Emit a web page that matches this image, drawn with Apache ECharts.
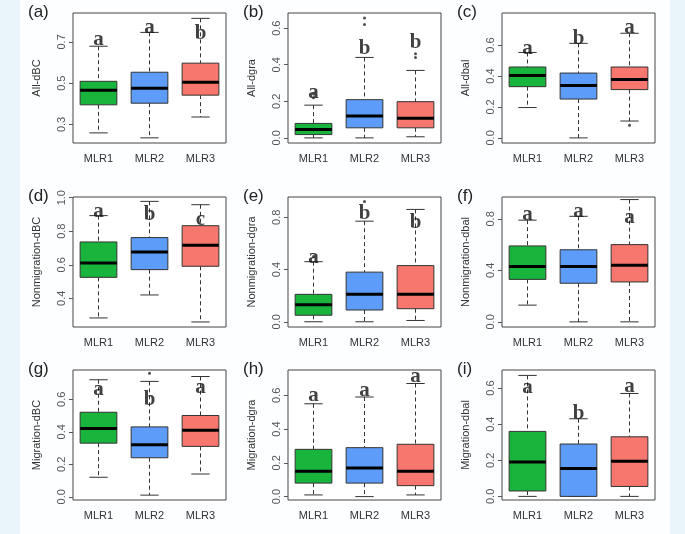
<!DOCTYPE html>
<html lang="en">
<head>
<meta charset="UTF-8">
<title>boxplots</title>
<style>
  html, body { margin: 0; width: 100%; height: 100%; background: #eaf4fb; }
  #main { width: 685px; height: 534px; }
</style>
</head>
<body>
<div id="main"></div>
<script src="https://cdn.jsdelivr.net/npm/echarts@6/dist/echarts.min.js"></script>
<script>
// categories and colours
var groups = ['MLR1', 'MLR2', 'MLR3'];
var fills = ['#19b43c', '#5d9cf8', '#f7766d'];

// panel tags and y names
var tags = ['(a)', '(b)', '(c)', '(d)', '(e)', '(f)', '(g)', '(h)', '(i)'];
var yNames = ['All-dBC', 'All-dgra', 'All-dbal',
  'Nonmigration-dBC', 'Nonmigration-dgra', 'Nonmigration-dbal',
  'Migration-dBC', 'Migration-dgra', 'Migration-dbal'];

// [low whisker, Q1, median, Q3, high whisker] per group
var boxA = [[0.259, 0.395, 0.466, 0.509, 0.679], [0.235, 0.403, 0.475, 0.553, 0.746], [0.336, 0.442, 0.504, 0.597, 0.814]];
var boxB = [[0, 0.018, 0.046, 0.079, 0.179], [0, 0.055, 0.12, 0.209, 0.44], [0.006, 0.055, 0.107, 0.198, 0.369]];
var boxC = [[0.196, 0.331, 0.403, 0.458, 0.552], [0, 0.251, 0.338, 0.419, 0.611], [0.109, 0.312, 0.377, 0.458, 0.676]];
var boxD = [[0.283, 0.525, 0.611, 0.736, 0.893], [0.42, 0.571, 0.676, 0.762, 0.978], [0.259, 0.591, 0.716, 0.833, 0.958]];
var boxE = [[0, 0.05, 0.13, 0.21, 0.46], [0, 0.09, 0.21, 0.38, 0.77], [0.01, 0.10, 0.21, 0.43, 0.86]];
var boxF = [[0.13, 0.33, 0.43, 0.59, 0.79], [0, 0.30, 0.43, 0.56, 0.82], [0, 0.31, 0.44, 0.60, 0.95]];
var boxG = [[0.12, 0.33, 0.42, 0.52, 0.72], [0.01, 0.24, 0.32, 0.43, 0.71], [0.14, 0.31, 0.41, 0.50, 0.74]];
var boxH = [[0.01, 0.08, 0.15, 0.28, 0.55], [0, 0.08, 0.17, 0.29, 0.59], [0.01, 0.065, 0.15, 0.31, 0.67]];
var boxI = [[0, 0.03, 0.19, 0.36, 0.67], [0, 0, 0.155, 0.29, 0.43], [0, 0.055, 0.195, 0.33, 0.57]];
var boxes = [boxA, boxB, boxC, boxD, boxE, boxF, boxG, boxH, boxI];

// outliers: [group index, value]
var outliers = [[], [[0, 0.22], [0, 0.24], [1, 0.62], [1, 0.655], [2, 0.44], [2, 0.46]], [[2, 0.081]],
  [], [[0, 0.50], [1, 0.92]], [], [[1, 0.76]], [], []];

// significance letters and their heights
var letters = [['a', 'a', 'b'], ['a', 'b', 'b'], ['a', 'b', 'a'],
  ['a', 'b', 'c'], ['a', 'b', 'b'], ['a', 'a', 'a'],
  ['a', 'b', 'a'], ['a', 'a', 'a'], ['a', 'b', 'a']];
var letterY = [[0.71, 0.77, 0.74], [0.25, 0.49, 0.52], [0.58, 0.64, 0.71],
  [0.92, 0.90, 0.87], [0.49, 0.83, 0.76], [0.83, 0.86, 0.81],
  [0.66, 0.60, 0.67], [0.60, 0.63, 0.71], [0.60, 0.46, 0.61]];

// axis ranges and tick values
var yMin = [0.21, -0.028, -0.033, 0.229, -0.04, -0.04, -0.02, -0.02, -0.02];
var yMax = [0.84, 0.683, 0.807, 1.004, 0.955, 0.97, 0.78, 0.75, 0.70];
var yTicks = [[0.3, 0.5, 0.7], [0, 0.2, 0.4, 0.6], [0, 0.2, 0.4, 0.6],
  [0.4, 0.6, 0.8, 1.0], [0, 0.4, 0.8], [0, 0.4, 0.8],
  [0, 0.2, 0.4, 0.6], [0, 0.2, 0.4, 0.6], [0, 0.2, 0.4, 0.6]];

var lefts = [73, 288, 502];
var tops = [13, 197, 370];
var W = 153, H = 130;

var grid = [], xAxis = [], yAxis = [], series = [], graphic = [];
graphic.push({ type: 'rect', shape: { x: 20, y: 0, width: 650, height: 534 }, style: { fill: '#fdfeff' }, z: -10 });

for (var k = 0; k < 9; k++) {
  var r = Math.floor(k / 3), c = k % 3;
  grid.push({ left: lefts[c], top: tops[r], width: W, height: H, show: true,
    borderColor: '#444', borderWidth: 1, backgroundColor: '#fff' });
  xAxis.push({ type: 'category', gridIndex: k, data: groups,
    axisLine: { show: false }, axisTick: { show: false },
    axisLabel: { color: '#333', fontSize: 11, margin: 10, fontFamily: 'Liberation Sans' } });
  yAxis.push({ type: 'value', gridIndex: k, min: yMin[k], max: yMax[k],
    name: yNames[k], nameLocation: 'middle', nameGap: 31,
    nameTextStyle: { color: '#333', fontSize: 11, fontFamily: 'Liberation Sans' },
    splitLine: { show: false }, axisLine: { show: false },
    axisTick: { show: true, length: 4, customValues: yTicks[k], lineStyle: { color: '#555' } },
    axisLabel: { rotate: 90, fontSize: 11, color: '#555', margin: 6, customValues: yTicks[k],
      formatter: function (v) { return v.toFixed(1); } } });

  (function (kk) {
    series.push({ type: 'custom', xAxisIndex: kk, yAxisIndex: kk,
      data: boxes[kk].map(function (b, i) { return [i].concat(b); }),
      renderItem: function (params, api) {
        var i = api.value(0);
        var bw = api.size([1, 0])[0] * 0.72;
        var p = function (v) { return api.coord([i, v]); };
        var lo = p(api.value(1)), q1 = p(api.value(2)), md = p(api.value(3)), q3 = p(api.value(4)), hi = p(api.value(5));
        var x = lo[0], cap = bw * 0.5;
        var dash = { stroke: '#333', lineWidth: 1, lineDash: [4, 3] };
        var solid = { stroke: '#333', lineWidth: 1 };
        return { type: 'group', children: [
          { type: 'line', shape: { x1: x, y1: hi[1], x2: x, y2: q3[1] }, style: dash },
          { type: 'line', shape: { x1: x, y1: q1[1], x2: x, y2: lo[1] }, style: dash },
          { type: 'line', shape: { x1: x - cap / 2, y1: hi[1], x2: x + cap / 2, y2: hi[1] }, style: solid },
          { type: 'line', shape: { x1: x - cap / 2, y1: lo[1], x2: x + cap / 2, y2: lo[1] }, style: solid },
          { type: 'rect', shape: { x: x - bw / 2, y: q3[1], width: bw, height: q1[1] - q3[1] },
            style: { fill: fills[i], stroke: '#333', lineWidth: 1 } },
          { type: 'line', shape: { x1: x - bw / 2, y1: md[1], x2: x + bw / 2, y2: md[1] },
            style: { stroke: '#000', lineWidth: 3 } }
        ] };
      } });
  })(k);

  series.push({ type: 'scatter', xAxisIndex: k, yAxisIndex: k, symbolSize: 3,
    itemStyle: { color: '#222' }, data: outliers[k] });

  series.push({ type: 'scatter', xAxisIndex: k, yAxisIndex: k, symbolSize: 0, z: 5,
    data: letters[k].map(function (t, i) { return { value: [i, letterY[k][i]], name: t }; }),
    label: { show: true, position: 'inside', formatter: '{b}', fontSize: 21, fontWeight: 'bold',
      color: '#111', fontFamily: 'Liberation Serif' } });

  graphic.push({ type: 'text', left: lefts[c] - 45, top: tops[r] - 9,
    style: { text: tags[k], fontSize: 17, fill: '#222', fontFamily: 'Liberation Sans' } });
}

var myChart = echarts.init(document.getElementById('main'));
myChart.setOption({ animation: false, grid: grid, xAxis: xAxis, yAxis: yAxis, series: series, graphic: graphic });
</script>
</body>
</html>
